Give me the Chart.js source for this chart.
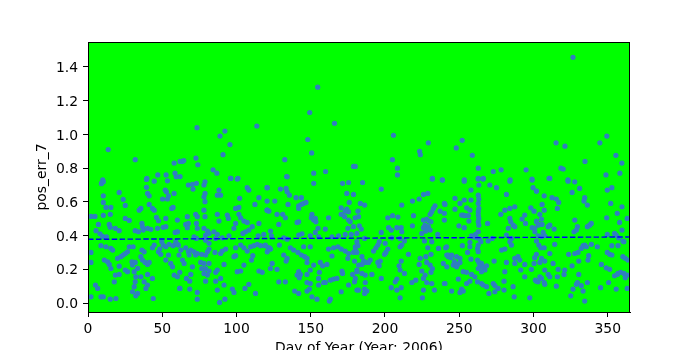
<!DOCTYPE html>
<html>
<head>
<meta charset="utf-8">
<script src="https://cdn.jsdelivr.net/npm/chart.js@4"></script>
<style>
  html, body { margin: 0; padding: 0; background: #fff; }
  #wrap { width: 700px; height: 350px; }
</style>
</head>
<body>
<div id="wrap"><canvas id="errChart" width="700" height="350"></canvas></div>
<script>
// pos_err_7 readings, [day of year, error]
const posErrSamples = [
  // high outliers
  [13.6,0.91],[31.8,0.85],[58,0.83],[62,0.84],[39.6,0.74],[47,0.76],[52.6,0.76],[58.6,0.77],[9.9,0.73],
  [73.4,1.04],[92.2,1.02],[88.9,0.99],[113.7,1.05],[95.6,0.94],[90.9,0.88],[72.7,0.86],[74,0.82],[63.5,0.84],[64.5,0.845],
  [84.2,0.79],[86.8,0.77],[62,0.75],[96.2,0.74],[101,0.74],
  [154.7,1.28],[149.3,1.13],[166,1.066],[148,0.97],[150.6,0.89],[132.5,0.85],[178.8,0.81],[133.8,0.75],[152,0.77],[160,0.78],
  [205.7,0.995],[229.2,0.95],[223.3,0.9],[223.8,0.88],[205,0.85],[208.4,0.8],[180,0.81],[208.4,0.76],[231.9,0.74],[238.6,0.73],
  [252,0.965],[248,0.92],[258.8,0.876],[262.8,0.8],[272.9,0.78],[278.2,0.79],[295,0.79],[262.8,0.74],[266.2,0.74],[253.4,0.73],
  [284.3,0.73],[299,0.735],
  [326.6,1.457],[349.4,0.99],[315.2,0.95],[321.2,0.93],[344.7,0.95],[355.5,0.876],[359.5,0.83],[334.7,0.84],[318.5,0.8],
  [320,0.795],[310.5,0.74],[348.8,0.76],[358.2,0.77],[323.2,0.73],
  // days 0 - 60
  [9.4,0.715],[10.3,0.72],[9.0,0.708],[21.0,0.656],[10.3,0.636],[23.7,0.615],[10.3,0.597],[12.1,0.567],[15.4,0.567],[25.1,0.579],
  [2.0,0.514],[4.7,0.514],[10.3,0.52],[15.0,0.526],[7.0,0.466],[25.1,0.502],[27.8,0.49],
  [14.3,0.466],[15.0,0.449],[18.4,0.443],[21.0,0.429],[5.4,0.429],[8.1,0.411],[9.9,0.395],[12.5,0.393],
  [31.8,0.429],[34.0,0.423],[36.3,0.472],[36.7,0.452],[37.2,0.433],[40.1,0.443],[42.3,0.437],
  [35.6,0.561],[34.5,0.551],[39.4,0.686],[41.2,0.585],[43.4,0.561],[44.6,0.551],[46.1,0.508],[47.5,0.488],
  [40.1,0.65],[41.2,0.636],[39.4,0.733],[44.6,0.723],[53.5,0.725],[52.0,0.67],[52.8,0.66],[50.2,0.617],
  [53.5,0.617],[54.2,0.636],[58.0,0.65],[57.3,0.567],[56.4,0.561],[52.4,0.502],[50.6,0.449],[52.4,0.453],
  [46.8,0.443],[58.7,0.419],[60.2,0.423],
  [2.0,0.30],[2.0,0.241],[8.7,0.34],[11.0,0.255],[13.2,0.245],[14.3,0.229],[15.4,0.205],
  [12.1,0.334],[15.4,0.324],[16.6,0.314],[19.9,0.265],[22.2,0.275],[23.7,0.285],[27.8,0.334],[30.4,0.334],
  [25.1,0.294],[26.6,0.304],[21.0,0.219],[25.1,0.196],[26.6,0.186],[18.4,0.166],[21.0,0.17],[17.7,0.126],
  [5.0,0.107],[6.5,0.087],[2.0,0.037],[8.7,0.037],[10.3,0.037],[15.0,0.023],[18.8,0.027],
  [31.1,0.186],[32.2,0.156],[31.8,0.126],[31.1,0.097],[29.6,0.245],[31.8,0.241],[30.0,0.225],
  [35.6,0.275],[36.7,0.255],[38.5,0.241],[40.1,0.229],[41.2,0.241],[36.3,0.314],[37.8,0.304],[33.4,0.206],
  [35.6,0.156],[37.8,0.126],[40.1,0.107],[39.0,0.087],[30.0,0.067],[33.4,0.057],[32.2,0.043],
  [40.1,0.17],[43.4,0.146],[43.9,0.027],
  [43.4,0.328],[44.6,0.344],[47.5,0.304],[48.4,0.32],[49.0,0.289],
  [49.7,0.364],[50.6,0.344],[52.4,0.334],[54.6,0.348],[57.3,0.34],[59.1,0.348],[60.9,0.344],
  [52.4,0.255],[55.7,0.235],[56.9,0.215],[58.0,0.166],[60.2,0.156],[54.2,0.285],[61.8,0.087],
  // days 60 - 120
  [59.4,0.749],[67.6,0.70],[70.3,0.704],[73.0,0.71],[70.7,0.676],
  [78.8,0.719],[78.1,0.70],[78.8,0.65],[78.1,0.63],[78.8,0.601],
  [88.2,0.67],[87.1,0.64],[89.3,0.64],[96.0,0.739],[100.5,0.735],[107.2,0.684],[108.3,0.67],[120.7,0.684],
  [115.1,0.625],[102.1,0.621],[112.4,0.585],[120.7,0.551],[99.4,0.561],[101.6,0.567],[78.1,0.551],[78.8,0.512],
  [60.2,0.492],[66.9,0.512],[67.6,0.472],[72.5,0.526],[73.6,0.512],[73.0,0.472],[73.6,0.443],
  [87.1,0.526],[88.2,0.486],[93.8,0.522],[94.5,0.502],[99.4,0.472],[98.3,0.443],
  [101.6,0.526],[102.8,0.506],[105.0,0.486],[107.2,0.478],[110.6,0.453],[108.3,0.433],[106.1,0.423],[104.3,0.413],
  [115.1,0.472],[121.8,0.545],[118.4,0.407],[114.6,0.399],[60.2,0.423],[59.1,0.364],[65.8,0.466],[66.9,0.447],
  [78.1,0.443],[80.4,0.427],[81.5,0.413],[79.2,0.403],[78.8,0.383],[84.8,0.423],[87.1,0.407],[85.9,0.383],
  [73.0,0.383],[71.4,0.393],[90.4,0.387],[94.9,0.399],[79.2,0.373],[81.5,0.354],
  [60.2,0.348],[62.5,0.314],[61.3,0.285],[63.6,0.255],[64.7,0.235],[65.8,0.328],[67.6,0.304],[69.2,0.314],[68.1,0.285],
  [71.4,0.304],[72.5,0.285],[73.6,0.294],[76.6,0.289],[81.5,0.32],[80.4,0.304],[79.2,0.285],
  [85.5,0.30],[89.3,0.294],[90.4,0.308],[92.7,0.32],
  [99.4,0.328],[102.8,0.344],[105.0,0.328],[107.2,0.308],[109.5,0.334],[111.7,0.34],[114.0,0.348],[116.2,0.34],[119.1,0.34],[121.3,0.328],
  [98.3,0.275],[99.4,0.281],[111.0,0.281],[110.1,0.255],
  [75.9,0.241],[78.1,0.235],[81.5,0.235],[76.6,0.205],[79.2,0.205],[81.5,0.19],[78.1,0.176],[80.4,0.166],[79.2,0.13],
  [70.3,0.215],[69.2,0.17],[66.3,0.146],[68.5,0.13],[61.8,0.182],[61.8,0.087],[68.5,0.083],[73.6,0.063],[73.6,0.023],
  [86.0,0.182],[87.1,0.196],[91.6,0.229],[86.0,0.13],[87.1,0.077],[89.3,0.146],[91.6,0.107],[88.6,0.004],[92.2,0.023],
  [97.2,0.083],[98.3,0.063],[100.5,0.186],[102.8,0.19],[105.0,0.225],[105.7,0.087],[108.3,0.111],[112.8,0.057],
  [115.1,0.19],[117.3,0.182],[120.7,0.304],[121.8,0.32],
  // days 120 - 180
  [134.1,0.749],[152.0,0.71],[171.4,0.71],[175.5,0.715],[129.6,0.676],[133.4,0.68],[134.1,0.66],[135.6,0.64],
  [120.6,0.684],[174.3,0.65],[178.8,0.644],[140.1,0.625],[143.7,0.625],[120.6,0.605],[125.8,0.605],[134.7,0.585],
  [141.9,0.577],[143.7,0.585],[145.2,0.591],[146.8,0.597],[175.9,0.597],[120.6,0.551],[141.9,0.561],
  [170.5,0.565],[174.3,0.557],[175.5,0.541],[173.2,0.545],[127.3,0.526],[131.1,0.526],[132.9,0.506],
  [150.8,0.526],[150.4,0.506],[152.0,0.492],[153.1,0.502],[153.5,0.482],[162.0,0.506],
  [170.5,0.526],[172.8,0.512],[175.5,0.492],[176.6,0.482],[179.9,0.506],[182.2,0.512],
  [141.9,0.482],[140.8,0.478],[128.5,0.466],[154.9,0.443],[159.8,0.439],[175.0,0.443],[178.8,0.453],[153.1,0.419],
  [144.1,0.411],[141.9,0.403],[149.7,0.399],[155.3,0.393],[164.3,0.393],[168.7,0.399],[173.2,0.407],[177.3,0.407],[181.1,0.413],
  [122.9,0.427],[123.5,0.399],[131.8,0.387],[134.1,0.379],[119.5,0.344],[122.2,0.328],[122.9,0.32],[128.9,0.344],
  [136.3,0.328],[138.5,0.314],[141.4,0.30],[143.7,0.285],[145.9,0.275],[147.5,0.265],[149.7,0.334],[145.2,0.334],
  [162.0,0.32],[165.4,0.328],[168.3,0.334],[170.5,0.32],[173.2,0.308],[175.5,0.294],[178.8,0.30],[181.1,0.30],[180.0,0.334],
  [131.8,0.285],[134.1,0.265],[133.4,0.249],[124.0,0.235],[122.9,0.205],[127.3,0.20],[164.3,0.279],[175.0,0.265],[179.5,0.249],
  [147.5,0.241],[149.7,0.196],[147.5,0.17],[152.0,0.225],[156.4,0.241],[158.0,0.221],[160.9,0.229],[155.8,0.182],[155.3,0.146],
  [141.9,0.186],[143.0,0.17],[140.8,0.166],[142.3,0.15],[128.5,0.126],[132.9,0.126],[147.5,0.122],[149.7,0.116],
  [155.3,0.107],[158.7,0.122],[159.8,0.122],[163.2,0.136],[165.4,0.142],[167.6,0.146],[171.0,0.19],[171.4,0.176],
  [178.2,0.17],[181.1,0.186],[175.5,0.107],[179.5,0.126],[139.2,0.071],[141.9,0.057],[147.5,0.071],[149.1,0.083],
  [150.8,0.037],[154.2,0.023],[163.2,0.023],[162.5,0.012],[170.5,0.067],[181.1,0.077],
  // days 180 - 240
  [184.9,0.715],[197.5,0.676],[231.9,0.735],[238.7,0.729],[183.4,0.591],[186.3,0.581],[211.3,0.581],
  [218.5,0.605],[223.0,0.617],[225.9,0.644],[228.8,0.65],[233.7,0.577],[232.6,0.561],[231.5,0.541],[230.4,0.526],
  [237.1,0.545],[240.0,0.532],[240.0,0.591],[181.8,0.545],[201.9,0.506],[205.1,0.518],[208.7,0.51],[219.2,0.518],
  [225.9,0.492],[228.1,0.498],[229.7,0.486],[231.0,0.482],[226.9,0.462],[229.2,0.453],[228.8,0.439],[225.9,0.447],[230.4,0.433],
  [240.0,0.492],[182.7,0.458],[184.0,0.439],[202.4,0.447],[204.2,0.433],[208.0,0.447],[210.9,0.447],[218.5,0.458],
  [197.5,0.419],[211.3,0.423],[224.8,0.413],[227.5,0.427],[235.5,0.407],[186.3,0.383],[204.6,0.387],[210.2,0.383],
  [181.1,0.364],[181.8,0.34],[180.0,0.314],[196.1,0.364],[195.2,0.344],[193.9,0.328],[192.3,0.308],
  [200.1,0.354],[201.9,0.32],[200.6,0.30],[199.7,0.289],[213.1,0.368],[211.3,0.344],[210.2,0.334],
  [226.6,0.368],[231.5,0.364],[228.8,0.328],[236.0,0.324],[240.9,0.328],[231.0,0.289],[215.8,0.289],
  [184.5,0.275],[185.6,0.249],[186.7,0.241],[190.1,0.255],[189.0,0.241],[182.2,0.225],[184.5,0.229],
  [195.2,0.241],[196.8,0.249],[196.1,0.221],[210.9,0.249],[209.5,0.221],[210.2,0.196],[213.1,0.176],
  [223.7,0.265],[223.0,0.229],[224.8,0.19],[227.0,0.166],[225.9,0.146],[227.5,0.275],[228.1,0.241],[230.4,0.225],[231.9,0.205],[231.0,0.182],
  [242.7,0.275],[241.6,0.285],[239.3,0.235],[184.5,0.176],[186.7,0.166],[191.2,0.17],[181.1,0.196],[180.0,0.146],[197.5,0.146],
  [186.7,0.122],[206.9,0.126],[208.0,0.142],[218.1,0.122],[220.7,0.136],[228.1,0.122],[231.5,0.116],[240.0,0.116],
  [182.2,0.077],[186.3,0.083],[187.8,0.071],[186.3,0.057],[204.2,0.091],[208.0,0.077],[210.9,0.091],[225.9,0.077],[233.3,0.077],
  [210.2,0.031],[225.2,0.031],[241.6,0.215],
  // days 240 - 300
  [253.4,0.723],[262.8,0.735],[266.1,0.735],[263.2,0.70],[257.9,0.67],[270.6,0.70],[275.1,0.684],[284.1,0.723],
  [299.1,0.729],[299.7,0.684],[302.0,0.664],[247.1,0.621],[250.5,0.591],[253.4,0.611],[257.9,0.611],
  [262.8,0.64],[263.2,0.617],[262.8,0.591],[263.2,0.561],[262.8,0.541],[262.8,0.522],[263.2,0.502],[262.8,0.482],[263.2,0.462],
  [281.8,0.644],[255.0,0.565],[257.2,0.551],[252.7,0.522],[251.6,0.522],[253.8,0.518],[256.1,0.518],[247.1,0.557],[240.4,0.585],
  [280.7,0.551],[284.1,0.561],[287.4,0.571],[278.0,0.526],[298.2,0.565],[300.4,0.545],
  [284.1,0.502],[284.7,0.482],[286.3,0.462],[287.4,0.453],[283.0,0.443],[294.1,0.522],[292.3,0.498],[294.6,0.472],
  [302.0,0.486],[303.1,0.462],[299.1,0.447],[300.8,0.443],[256.5,0.486],[253.4,0.447],[249.8,0.458],[269.1,0.472],
  [262.8,0.423],[261.0,0.407],[259.4,0.393],[258.3,0.399],[261.7,0.387],[263.9,0.379],[264.6,0.364],[262.8,0.344],[262.3,0.324],[262.8,0.305],
  [257.2,0.36],[257.2,0.334],[252.1,0.34],[255.6,0.30],[272.2,0.383],[269.5,0.368],[281.8,0.403],[285.2,0.383],
  [284.1,0.364],[285.2,0.344],[278.5,0.314],[280.7,0.32],[241.5,0.334],
  [242.6,0.285],[244.9,0.285],[244.4,0.269],[248.2,0.275],[246.7,0.245],[248.9,0.229],[250.5,0.241],[250.5,0.265],[246.0,0.225],[248.2,0.215],
  [257.9,0.26],[262.3,0.255],[263.2,0.241],[265.0,0.235],[263.9,0.221],[266.1,0.215],[262.8,0.205],[268.4,0.221],[267.3,0.196],[265.0,0.186],
  [273.5,0.249],[281.8,0.241],[287.4,0.265],[289.6,0.275],[290.8,0.255],[287.4,0.235],[294.1,0.229],[300.4,0.235],[300.8,0.269],[302.0,0.289],
  [252.7,0.186],[255.0,0.182],[258.3,0.17],[260.5,0.156],[280.7,0.186],[291.4,0.196],[298.6,0.20],
  [249.4,0.142],[255.0,0.116],[257.2,0.13],[262.3,0.126],[265.0,0.116],[266.1,0.107],[268.4,0.097],[272.9,0.116],[274.0,0.103],[276.2,0.087],[274.0,0.067],
  [280.2,0.13],[286.3,0.097],[294.1,0.156],[301.3,0.136],[303.1,0.126],
  [244.9,0.071],[251.6,0.083],[250.5,0.063],[252.7,0.071],[270.0,0.057],[280.2,0.077],[287.0,0.037],[297.5,0.031],[240.4,0.116],
  // days 300 - 365
  [311.0,0.739],[323.3,0.723],[327.8,0.719],[331.1,0.68],[326.0,0.656],[349.7,0.67],[352.8,0.684],[302.0,0.664],
  [307.2,0.636],[312.5,0.625],[315.4,0.617],[317.0,0.597],[316.1,0.561],[334.5,0.625],[334.0,0.605],[336.3,0.581],
  [305.8,0.585],[307.2,0.551],[352.0,0.591],[359.6,0.571],
  [304.3,0.526],[302.0,0.482],[303.6,0.466],[305.8,0.466],[305.4,0.498],[309.9,0.453],[311.0,0.462],[313.9,0.439],
  [327.8,0.492],[329.6,0.453],[327.3,0.423],[328.9,0.433],[336.3,0.453],[337.8,0.462],[338.9,0.472],
  [356.4,0.532],[358.0,0.478],[359.6,0.433],[363.1,0.502],[349.3,0.506],
  [300.9,0.423],[306.5,0.419],[307.6,0.399],[305.4,0.393],[303.1,0.399],[349.7,0.407],
  [354.6,0.413],[355.7,0.403],[357.3,0.387],[360.2,0.368],
  [302.0,0.368],[303.6,0.344],[304.9,0.328],[307.2,0.328],[314.3,0.348],
  [332.2,0.324],[333.4,0.34],[334.5,0.344],[335.6,0.334],[339.0,0.348],[343.0,0.334],[330.0,0.30],[327.8,0.294],
  [352.8,0.34],[356.9,0.34],[360.9,0.364],[311.0,0.294],[323.7,0.289],[337.2,0.281],[336.7,0.255],
  [349.7,0.30],[351.3,0.289],[352.8,0.285],[360.2,0.275],[361.8,0.265],[363.6,0.255],
  [305.4,0.265],[307.6,0.249],[304.3,0.241],[330.5,0.249],[345.7,0.229],[313.2,0.235],[326.0,0.221],[316.6,0.20],
  [349.0,0.209],[351.3,0.20],[307.6,0.196],[309.9,0.17],[311.0,0.156],[321.0,0.196],[320.6,0.17],
  [316.1,0.156],[304.3,0.156],[305.4,0.146],[302.0,0.13],[307.2,0.122],[307.6,0.111],[315.4,0.10],[330.5,0.17],
  [328.9,0.111],[329.6,0.122],[332.2,0.103],[336.3,0.122],
  [354.6,0.162],[356.9,0.176],[358.7,0.182],[360.9,0.176],[363.1,0.166],[361.8,0.15],[350.6,0.122],[356.4,0.17],
  [345.2,0.091],[326.6,0.083],[333.4,0.071],[355.7,0.083],[363.1,0.087],[325.1,0.043],[334.5,0.012]
];

// dashed trend line end points
const trendDays = [0, 365];
const trendVals = [0.378, 0.392];

// axis limits / ticks
const xLimits = [0, 365];
const yLimits = [-0.053, 1.548];
const xTickStep = 50;
const yTickStep = 0.2;

const FONT = 'DejaVu Sans';
Chart.defaults.color = '#000';
Chart.defaults.font.family = FONT;
Chart.defaults.font.size = 13.9;

// green plot background + black frame like the matplotlib axes
const axesFrame = {
    id: 'axesFrame',
    beforeDatasetsDraw(chart) {
        const {ctx, chartArea: a} = chart;
        ctx.save();
        ctx.fillStyle = '#00ff00';
        ctx.fillRect(a.left, a.top, a.right - a.left, a.bottom - a.top);
        ctx.restore();
    },
    afterDraw(chart) {
        const {ctx, chartArea: a} = chart;
        ctx.save();
        ctx.strokeStyle = '#000';
        ctx.lineWidth = 1;
        ctx.strokeRect(a.left + 0.5, a.top + 0.5, a.right - a.left - 1, a.bottom - a.top);
        ctx.restore();
    }
};

const ctx = document.getElementById('errChart').getContext('2d');
new Chart(ctx, {
    type: 'scatter',
    data: {
        datasets: [{
            label: 'pos_err_7',
            data: posErrSamples.map(p => ({x: p[0], y: p[1]})),
            backgroundColor: '#2f7fc0',
            borderWidth: 0,
            pointRadius: 2.6,
            pointHoverRadius: 2.6,
            order: 2
        }, {
            type: 'line',
            label: 'mean',
            data: trendDays.map((d, i) => ({x: d, y: trendVals[i]})),
            borderColor: '#0000ff',
            borderWidth: 1.4,
            borderDash: [5.5, 2.4],
            pointRadius: 0,
            fill: false,
            order: 1
        }]
    },
    options: {
        responsive: false,
        animation: false,
        events: [],
        layout: { padding: { top: 42, right: 70, bottom: 0, left: 0 } },
        plugins: {
            legend: { display: false },
            tooltip: { enabled: false }
        },
        scales: {
            x: {
                type: 'linear',
                min: xLimits[0],
                max: xLimits[1],
                afterFit: s => { s.height = 38; },
                grid: { drawOnChartArea: false, drawTicks: true, tickLength: 5, color: '#000' },
                border: { display: true, color: '#000', width: 1 },
                ticks: {
                    stepSize: xTickStep,
                    includeBounds: false,
                    maxRotation: 0,
                    padding: 4,
                    callback: v => String(v)
                },
                title: {
                    display: true,
                    text: 'Day of Year (Year: 2006)',
                    padding: { top: 0, bottom: -7 }
                }
            },
            y: {
                min: yLimits[0],
                max: yLimits[1],
                afterFit: s => { s.width = 88; },
                grid: { drawOnChartArea: false, drawTicks: true, tickLength: 5, color: '#000' },
                border: { display: true, color: '#000', width: 1 },
                ticks: {
                    stepSize: yTickStep,
                    includeBounds: false,
                    padding: 5,
                    labelOffset: 1.5,
                    callback: v => v.toFixed(1)
                },
                title: {
                    display: true,
                    text: 'pos_err_7',
                    padding: { top: 34.5, bottom: 0 }
                }
            }
        }
    },
    plugins: [axesFrame]
});
</script>
</body>
</html>
